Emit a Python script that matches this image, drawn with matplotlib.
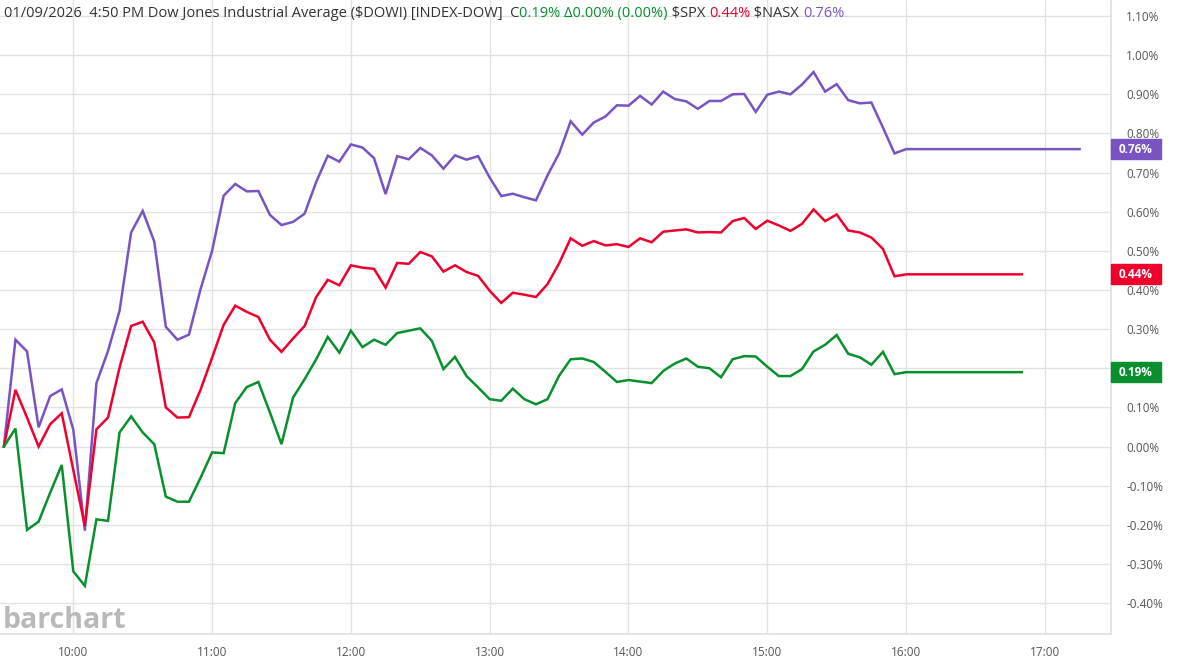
import pandas as pd
import matplotlib
matplotlib.use('Agg')
import matplotlib.pyplot as plt
import matplotlib.dates as mdates
import matplotlib.transforms as mtransforms
from matplotlib.patches import Rectangle
from matplotlib.ticker import FuncFormatter, MultipleLocator

plt.rcParams['font.family'] = ['Open Sans', 'DejaVu Sans']

# %% data: percent change vs previous close, 5 min bars 9:30 -> 16:00
times = pd.date_range('2026-01-09 09:30', '2026-01-09 16:00', freq='5min')

dowi = [0.000, 0.046, -0.213, -0.192, -0.118, -0.047, -0.319, -0.356, -0.186, -0.190,
        0.036, 0.077, 0.036, 0.006, -0.128, -0.141, -0.141, -0.080,
        -0.015, -0.017, 0.111, 0.152, 0.165, 0.087, 0.006, 0.125, 0.172, 0.223, 0.280, 0.240,
        0.296, 0.254, 0.273, 0.260, 0.290, 0.296, 0.302, 0.270, 0.198, 0.229, 0.180, 0.151,
        0.121, 0.117, 0.148, 0.121, 0.108, 0.121, 0.181, 0.223, 0.225, 0.216, 0.191, 0.165,
        0.170, 0.166, 0.162, 0.193, 0.212, 0.225, 0.204, 0.200, 0.177, 0.223, 0.231, 0.230,
        0.204, 0.180, 0.180, 0.198, 0.243, 0.260, 0.285, 0.237, 0.228, 0.209, 0.242, 0.185,
        0.19]

spx = [0.000, 0.145, 0.074, 0.000, 0.057, 0.085, -0.060, -0.203, 0.044, 0.074,
       0.202, 0.308, 0.319, 0.266, 0.100, 0.074, 0.075, 0.145,
       0.227, 0.311, 0.360, 0.344, 0.331, 0.273, 0.242, 0.276, 0.308, 0.382, 0.426, 0.412,
       0.463, 0.457, 0.454, 0.406, 0.469, 0.467, 0.497, 0.486, 0.447, 0.463, 0.446, 0.436,
       0.398, 0.367, 0.393, 0.388, 0.382, 0.415, 0.468, 0.532, 0.513, 0.525, 0.514, 0.517,
       0.510, 0.532, 0.522, 0.549, 0.552, 0.555, 0.547, 0.548, 0.547, 0.576, 0.584, 0.556,
       0.577, 0.565, 0.551, 0.569, 0.606, 0.576, 0.593, 0.552, 0.547, 0.534, 0.505, 0.435,
       0.44]

nasx = [0.000, 0.273, 0.243, 0.049, 0.129, 0.146, 0.043, -0.215, 0.162, 0.244,
        0.347, 0.547, 0.602, 0.524, 0.306, 0.273, 0.286, 0.402,
        0.500, 0.641, 0.671, 0.652, 0.653, 0.592, 0.566, 0.574, 0.595, 0.676, 0.743, 0.728,
        0.772, 0.764, 0.737, 0.645, 0.742, 0.734, 0.763, 0.744, 0.710, 0.744, 0.733, 0.742,
        0.687, 0.640, 0.646, 0.637, 0.629, 0.693, 0.749, 0.831, 0.797, 0.828, 0.843, 0.872,
        0.871, 0.896, 0.874, 0.907, 0.888, 0.882, 0.863, 0.883, 0.883, 0.900, 0.901, 0.855,
        0.899, 0.907, 0.900, 0.925, 0.957, 0.907, 0.926, 0.885, 0.877, 0.879, 0.815, 0.749,
        0.76]

# flat after-hours tail, last bar time per series
tail_end = {'DOWI': '2026-01-09 16:50', 'SPX': '2026-01-09 16:50', 'NASX': '2026-01-09 17:15'}
closes = {'DOWI': 0.19, 'SPX': 0.44, 'NASX': 0.76}
colors = {'DOWI': '#08902f', 'SPX': '#f0002d', 'NASX': '#7a53c3'}
series = {'DOWI': dowi, 'SPX': spx, 'NASX': nasx}

# %% figure
fig = plt.figure(figsize=(11.88, 6.61), dpi=100)
ax = fig.add_axes([0.0, 27 / 661, 1111 / 1188, 1 - 27 / 661])

grid_c = '#e2e2e2'
for name in ['NASX', 'SPX', 'DOWI']:
    t = list(times) + [pd.Timestamp(tail_end[name])]
    v = list(series[name]) + [closes[name]]
    ax.plot(t, v, color=colors[name], lw=1.8, solid_joinstyle='miter', zorder=3)

ax.set_ylim(-0.479, 1.141)
ax.set_xlim(pd.Timestamp('2026-01-09 09:28:19'), pd.Timestamp('2026-01-09 17:28:35'))


def pct_label(v, pos):
    # labels hidden behind a last-value box are not drawn
    if not -0.45 < v < 1.15:
        return ''
    if any(abs(v - c) < 0.02 for c in closes.values()):
        return ''
    return f'{v:.2f}%'


ax.yaxis.tick_right()
ax.yaxis.set_major_locator(MultipleLocator(0.1))
ax.yaxis.set_major_formatter(FuncFormatter(pct_label))
ax.xaxis.set_major_locator(mdates.HourLocator())
ax.xaxis.set_major_formatter(mdates.DateFormatter('%H:%M'))
ax.tick_params(axis='both', length=0, labelsize=8.5, labelcolor='#555555')
ax.tick_params(axis='y', pad=11)
ax.tick_params(axis='x', pad=9)

ax.grid(True, color=grid_c, lw=1.0, zorder=0)
for s in ['top', 'left']:
    ax.spines[s].set_visible(False)
for s in ['right', 'bottom']:
    ax.spines[s].set_color(grid_c)
    ax.spines[s].set_linewidth(1.3)

# last value boxes on the price axis
trans = mtransforms.blended_transform_factory(ax.transAxes, ax.transData)
box_h = 0.051
for name in ['DOWI', 'SPX', 'NASX']:
    c = closes[name]
    ax.add_patch(Rectangle((1.0, c - box_h / 2), 0.045, box_h, transform=trans,
                           color=colors[name], clip_on=False, zorder=5))
    ax.text(1.0225, c, f'{c:.2f}%', transform=trans, ha='center', va='center',
            color='white', fontsize=8.5, fontweight='bold', zorder=6, clip_on=False)

# watermark
fig.text(3 / 1188, 1 - 628 / 661, 'barchart', color='#b9b9b9', fontsize=20.5,
         fontweight='bold', ha='left', va='baseline')

# header line, coloured pieces
pieces = [('01/09/2026  4:50 PM Dow Jones Industrial Average ($DOWI) [INDEX-DOW]  C', '#333333'),
          ('0.19% \u03940.00% (0.00%)', colors['DOWI']),
          (' $SPX ', '#333333'),
          ('0.44%', colors['SPX']),
          (' $NASX ', '#333333'),
          ('0.76%', colors['NASX'])]
renderer = fig.canvas.get_renderer()
x = 4 / 1188
for txt, col in pieces:
    t = fig.text(x, 1 - 17 / 661, txt, color=col, fontsize=10.5, ha='left', va='baseline')
    bb = t.get_window_extent(renderer=renderer)
    x += bb.width / fig.bbox.width

fig.savefig('out.png', dpi=100)
